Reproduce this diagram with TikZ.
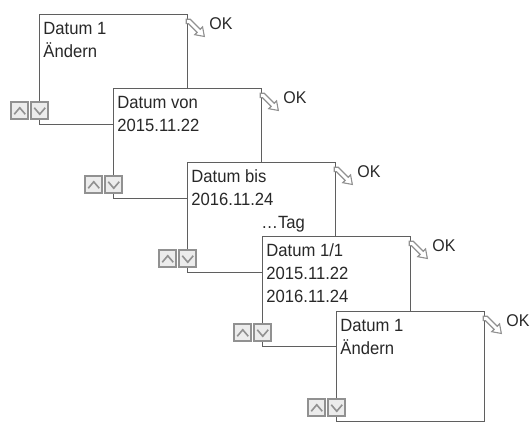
\documentclass[tikz,border=0pt]{standalone}
\usepackage{fontspec}
\setmainfont[FakeStretch=0.94]{Liberation Sans}
\definecolor{linec}{RGB}{95,95,95}
\definecolor{textc}{RGB}{40,40,40}
\definecolor{btnc}{RGB}{145,145,145}
\definecolor{btnfill}{RGB}{236,236,236}
\tikzset{
  screen/.style={draw=linec, line width=1.3pt, fill=white, minimum width=148pt, minimum height=110pt, anchor=north west, inner sep=0pt, outer sep=0pt},
  lbl/.style={anchor=base west, inner sep=0pt, text=textc, font=\fontsize{17.7}{20}\selectfont},
  oklbl/.style={anchor=base west, inner sep=0pt, text=textc, font=\fontsize{17}{19}\selectfont},
  btnbox/.style={draw=btnc, fill=btnfill, line width=1.6pt},
  chev/.style={draw=btnc, line width=1.6pt},
  okarrow/.style={draw=btnc, fill=white, line width=1.1pt, line join=miter},
  keys/.pic={
    \draw[btnbox] (-28,-22) rectangle (-11,-5);
    \draw[chev] (-25,-10) -- (-19.5,-16.5) -- (-14,-10);
    \draw[btnbox] (-8,-22) rectangle (9,-5);
    \draw[chev] (-5,-16.5) -- (0.5,-10) -- (6,-16.5);
  },
  okicon/.pic={
    \draw[okarrow] (-1,5) -- (3,5) -- (13,15) -- (15.33,12.67) -- (17.1,22.2) -- (7.55,20.45) -- (9.88,18.12) -- (1.18,9.4) -- (-1,9.4) -- cycle;
  }
}
\begin{document}
\begin{tikzpicture}[x=1pt,y=-1pt]
\useasboundingbox (0,0) rectangle (531,429);
% screen 1
\node[screen] (box1) at (39.25,14.25) {};
\pic at (box1.south west) {keys};
\pic at (box1.north east) {okicon};
\node[oklbl] (ok1) at ([shift={(22,15.5)}]box1.north east) {OK};
\node[lbl] (t1a) at ([shift={(4,20.5)}]box1.north west) {Datum 1};
\node[lbl] (t1b) at ([shift={(4,43.5)}]box1.north west) {Ändern};
% screen 2
\node[screen] (box2) at (113.25,88.25) {};
\pic at (box2.south west) {keys};
\pic at (box2.north east) {okicon};
\node[oklbl] (ok2) at ([shift={(22,15.5)}]box2.north east) {OK};
\node[lbl] (t2a) at ([shift={(4,20.5)}]box2.north west) {Datum von};
\node[lbl] (t2b) at ([shift={(4,43.5)}]box2.north west) {2015.11.22};
% screen 3
\node[screen] (box3) at (187.25,162.25) {};
\pic at (box3.south west) {keys};
\pic at (box3.north east) {okicon};
\node[oklbl] (ok3) at ([shift={(22,15.5)}]box3.north east) {OK};
\node[lbl] (t3a) at ([shift={(4,20.5)}]box3.north west) {Datum bis};
\node[lbl] (t3b) at ([shift={(4,43.5)}]box3.north west) {2016.11.24};
\node[lbl] (t3c) at ([shift={(74,66.5)}]box3.north west) {…Tag};
% screen 4
\node[screen] (box4) at (262.25,236.25) {};
\pic at (box4.south west) {keys};
\pic at (box4.north east) {okicon};
\node[oklbl] (ok4) at ([shift={(22,15.5)}]box4.north east) {OK};
\node[lbl] (t4a) at ([shift={(4,20.5)}]box4.north west) {Datum 1/1};
\node[lbl] (t4b) at ([shift={(4,43.5)}]box4.north west) {2015.11.22};
\node[lbl] (t4c) at ([shift={(4,66.5)}]box4.north west) {2016.11.24};
% screen 5
\node[screen] (box5) at (336.25,311.25) {};
\pic at (box5.south west) {keys};
\pic at (box5.north east) {okicon};
\node[oklbl] (ok5) at ([shift={(22,15.5)}]box5.north east) {OK};
\node[lbl] (t5a) at ([shift={(4,20.5)}]box5.north west) {Datum 1};
\node[lbl] (t5b) at ([shift={(4,43.5)}]box5.north west) {Ändern};
\end{tikzpicture}
\end{document}
